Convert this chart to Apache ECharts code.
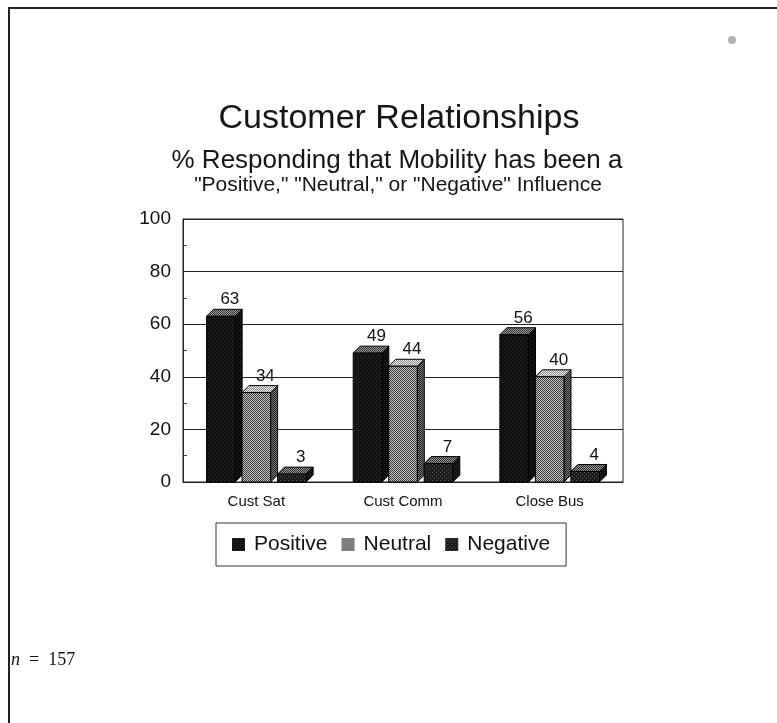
<!DOCTYPE html>
<html>
<head>
<meta charset="utf-8">
<script src="https://cdn.jsdelivr.net/npm/echarts@6/dist/echarts.min.js"></script>
<style>
  html, body { margin: 0; padding: 0; background: #fff; }
  #chart { width: 777px; height: 723px; }
</style>
</head>
<body>
<div id="chart"></div>
<script>
var categories = ['Cust Sat', 'Cust Comm', 'Close Bus'];
var seriesNames = ['Positive', 'Neutral', 'Negative'];
var positiveValues = [63, 49, 56];
var neutralValues = [34, 44, 40];
var negativeValues = [3, 7, 4];
var yTicks = [0, 20, 40, 60, 80, 100];

// dotted fill like the old printed chart
function dotPattern(base, dot) {
    var c = document.createElement('canvas');
    c.width = 4; c.height = 4;
    var ctx = c.getContext('2d');
    ctx.fillStyle = base;
    ctx.fillRect(0, 0, 4, 4);
    ctx.fillStyle = dot;
    ctx.fillRect(0, 0, 1, 1);
    ctx.fillRect(2, 2, 1, 1);
    return { image: c, repeat: 'repeat' };
}
function checker(a, b) {
    var c = document.createElement('canvas');
    c.width = 2; c.height = 2;
    var ctx = c.getContext('2d');
    ctx.fillStyle = a;
    ctx.fillRect(0, 0, 2, 2);
    ctx.fillStyle = b;
    ctx.fillRect(0, 0, 1, 1);
    ctx.fillRect(1, 1, 1, 1);
    return { image: c, repeat: 'repeat' };
}

var faces = [
    { front: dotPattern('#111', '#3a3a3a'), side: dotPattern('#0c0c0c', '#2a2a2a'), top: checker('#999', '#333') },
    { front: checker('#c4c4c4', '#3a3a3a'), side: checker('#777', '#222'), top: checker('#eee', '#888') },
    { front: dotPattern('#1c1c1c', '#555'), side: dotPattern('#111', '#333'), top: checker('#999', '#2a2a2a') }
];

var chart = echarts.init(document.getElementById('chart'));

function makeRender(k) {
    return function (params, api) {
        var cat = api.value(0);
        var val = api.value(1);
        var top = api.coord([cat, val]);
        var base = api.coord([cat, 0]);
        var band = api.size([1, 0])[0];
        var pitch = band * 0.242;
        var w = band * 0.195;
        var d = 7;
        var cx = top[0] + (k - 1) * pitch;
        var x0 = cx - w / 2, x1 = cx + w / 2;
        var yT = top[1], yB = base[1];
        var f = faces[k];
        return {
            type: 'group',
            children: [
                { type: 'polygon', shape: { points: [[x1, yB], [x1 + d, yB - d], [x1 + d, yT - d], [x1, yT]] },
                  style: { fill: f.side, stroke: '#000', lineWidth: 1 } },
                { type: 'polygon', shape: { points: [[x0, yT], [x0 + d, yT - d], [x1 + d, yT - d], [x1, yT]] },
                  style: { fill: f.top, stroke: '#000', lineWidth: 1 } },
                { type: 'rect', shape: { x: x0, y: yT, width: w, height: yB - yT },
                  style: { fill: f.front, stroke: '#000', lineWidth: 1 } },
                { type: 'text', x: cx + 9, y: yT - d - 1,
                  style: { text: String(val), fill: '#111', font: '17px Arial, "Liberation Sans", sans-serif',
                           textAlign: 'center', textVerticalAlign: 'bottom' } }
            ]
        };
    };
}

var valueLists = [positiveValues, neutralValues, negativeValues];
var series = seriesNames.map(function (name, k) {
    return {
        name: name,
        type: 'custom',
        renderItem: makeRender(k),
        itemStyle: { color: faces[k].front, borderWidth: 0 },
        encode: { x: 0, y: 1 },
        data: valueLists[k].map(function (v, i) { return [i, v]; }),
        z: 3
    };
});

var option = {
    backgroundColor: '#fff',
    animation: false,
    textStyle: { fontFamily: 'Arial, "Liberation Sans", sans-serif', color: '#111' },
    title: [
        { text: 'Customer Relationships', left: 394, top: 97, textAlign: 'center',
          textStyle: { fontSize: 34, fontWeight: 'normal', color: '#151515' } },
        { text: '% Responding that Mobility has been a', left: 392, top: 143, textAlign: 'center',
          textStyle: { fontSize: 26, fontWeight: 'normal', color: '#151515' } },
        { text: '"Positive," "Neutral," or "Negative" Influence', left: 393, top: 170, textAlign: 'center',
          textStyle: { fontSize: 21, fontWeight: 'normal', color: '#151515' } }
    ],
    grid: { left: 183, right: 154, top: 219, bottom: 241, show: true, borderColor: '#222', borderWidth: 1 },
    legend: {
        data: seriesNames,
        left: 216, top: 523,
        padding: [11, 16],
        borderColor: '#333', borderWidth: 1,
        icon: 'rect', itemWidth: 13, itemHeight: 13, itemGap: 14,
        itemStyle: { borderWidth: 0 },
        textStyle: { fontSize: 21, color: '#111', padding: [0, 0, 0, 4] }
    },
    xAxis: {
        type: 'category',
        data: categories,
        axisLine: { lineStyle: { color: '#222' } },
        axisTick: { show: false },
        axisLabel: { fontSize: 15, color: '#111', margin: 12 },
        splitLine: { show: false }
    },
    yAxis: {
        type: 'value',
        min: yTicks[0], max: yTicks[yTicks.length - 1], interval: 20,
        axisLine: { show: true, lineStyle: { color: '#222' } },
        axisTick: { show: false, inside: true },
        minorTick: { show: true, splitNumber: 2, length: 4, lineStyle: { color: '#444' } },
        axisLabel: { fontSize: 19, color: '#111', margin: 12 },
        splitLine: { show: true, lineStyle: { color: '#222', width: 1 } }
    },
    graphic: [
        { type: 'line', shape: { x1: 8, y1: 8, x2: 777, y2: 8 }, style: { stroke: '#222', lineWidth: 2 } },
        { type: 'line', shape: { x1: 9, y1: 8, x2: 9, y2: 723 }, style: { stroke: '#222', lineWidth: 2 } },
        { type: 'circle', shape: { cx: 732, cy: 40, r: 4 }, style: { fill: '#b0b0b0' } },
        { type: 'text', left: 11, top: 651,
          style: { text: '{i|n}  =  157', font: '18px "Liberation Serif", "DejaVu Serif", serif', fill: '#111',
                   rich: { i: { fontStyle: 'italic', fontSize: 18, fontFamily: '"Liberation Serif", serif' } } } }
    ],
    series: series
};

chart.setOption(option);
</script>
</body>
</html>
